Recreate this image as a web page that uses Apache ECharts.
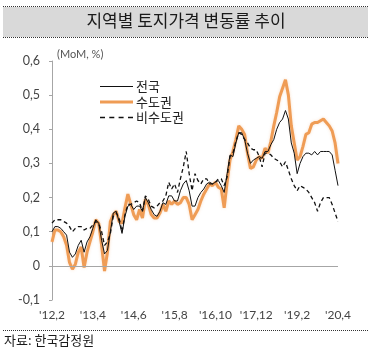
<!DOCTYPE html>
<html><head><meta charset="utf-8">
<script src="https://cdn.jsdelivr.net/npm/echarts@6/dist/echarts.min.js"></script>
<style>html,body{margin:0;padding:0;background:#fff}#c{width:372px;height:357px}</style>
</head><body><div id="c"></div>
<script>
// monthly categories 2012.2 .. 2020.4
const categories = [];
for (let y = 2012, m = 2; y < 2020 || (y === 2020 && m <= 4); ) {
  categories.push(y + '.' + m);
  m++; if (m > 12) { m = 1; y++; }
}
const tickLabels = ["'12,2", "'13,4", "'14,6", "'15,8", "'16,10", "'17,12", "'19,2", "'20,4"];
const yTickLabels = ["-0,1", "0", "0,1", "0,2", "0,3", "0,4", "0,5", "0,6"];

const nationwide = [0.10,0.115,0.115,0.11,0.10,0.09,0.04,0.025,0.035,0.06,0.075,0.04,0.07,0.085,0.11,0.135,0.125,0.075,0.035,0.045,
0.10,0.155,0.16,0.13,0.095,0.145,0.175,0.18,0.165,0.175,0.175,0.16,0.2,0.185,0.165,0.15,0.145,0.16,0.185,0.18,
0.205,0.205,0.19,0.19,0.22,0.24,0.25,0.22,0.175,0.175,0.2,0.215,0.225,0.24,0.245,0.24,0.245,0.25,0.235,0.215,
0.27,0.325,0.32,0.36,0.39,0.39,0.37,0.33,0.30,0.31,0.315,0.32,0.315,0.335,0.335,0.355,0.37,0.40,0.42,0.43,
0.455,0.43,0.36,0.33,0.27,0.30,0.32,0.33,0.33,0.325,0.335,0.325,0.335,0.335,0.335,0.335,0.325,0.28,0.235];

const capital = [0.07,0.105,0.105,0.10,0.085,0.06,0.01,-0.01,0.005,0.04,0.055,-0.005,0.04,0.07,0.10,0.135,0.125,0.06,-0.015,0.04,
0.13,0.15,0.16,0.13,0.125,0.17,0.21,0.18,0.15,0.135,0.165,0.14,0.195,0.18,0.15,0.14,0.14,0.155,0.18,0.16,
0.19,0.18,0.19,0.18,0.185,0.2,0.2,0.18,0.135,0.15,0.165,0.19,0.21,0.225,0.24,0.235,0.245,0.23,0.225,0.17,
0.245,0.31,0.335,0.37,0.41,0.40,0.385,0.33,0.285,0.29,0.31,0.32,0.315,0.345,0.33,0.365,0.41,0.45,0.495,0.52,
0.545,0.50,0.41,0.36,0.31,0.32,0.35,0.385,0.39,0.415,0.42,0.42,0.425,0.43,0.42,0.41,0.395,0.36,0.30];

const nonCapital = [0.125,0.135,0.135,0.135,0.13,0.125,0.115,0.10,0.11,0.115,0.115,0.105,0.11,0.11,0.12,0.13,0.125,0.10,0.06,0.07,
0.095,0.145,0.155,0.14,0.10,0.15,0.18,0.18,0.185,0.19,0.185,0.16,0.205,0.195,0.175,0.17,0.175,0.185,0.19,0.205,
0.245,0.225,0.24,0.215,0.255,0.29,0.335,0.27,0.22,0.27,0.25,0.24,0.255,0.255,0.24,0.24,0.245,0.255,0.255,0.235,
0.26,0.32,0.33,0.365,0.39,0.385,0.37,0.36,0.345,0.34,0.34,0.32,0.29,0.33,0.33,0.325,0.315,0.31,0.305,0.29,
0.305,0.28,0.255,0.235,0.22,0.235,0.23,0.225,0.215,0.2,0.185,0.16,0.185,0.2,0.2,0.2,0.18,0.155,0.13];

const seriesNames = ['전국', '수도권', '비수도권'];

const chart = echarts.init(document.getElementById('c'), null, {renderer: 'canvas'});
const numFont = 'Lato, "Noto Sans CJK KR", sans-serif';
const krFont = '"Noto Sans CJK KR", sans-serif';
chart.setOption({
  animation: false,
  backgroundColor: '#fff',
  grid: {left: 52, right: 34, top: 61, bottom: 57, containLabel: false},
  legend: {
    data: [
      {name: seriesNames[0], icon: 'path://M0,0L33,0L33,1.2L0,1.2Z'},
      {name: seriesNames[1], icon: 'path://M0,0L33,0L33,3.2L0,3.2Z'},
      {name: seriesNames[2], icon: 'path://M0,0h5v1.5h-5z M9.3,0h5v1.5h-5z M18.6,0h5v1.5h-5z M28,0h5v1.5h-5z'}
    ],
    orient: 'vertical', left: 95, top: 75,
    itemWidth: 33, itemHeight: 14, itemGap: 2.5,
    textStyle: {fontFamily: krFont, fontSize: 13, color: '#222', padding: [0,0,0,-2]}
  },
  xAxis: {
    type: 'category', data: categories, boundaryGap: false,
    axisLine: {show: false, onZero: false}, axisTick: {show: false},
    axisLabel: {
      interval: 13, margin: 9, fontSize: 12, color: '#444', fontFamily: numFont,
      formatter: (v, i) => tickLabels[Math.round(i / 14)]
    },
    splitLine: {show: false}
  },
  yAxis: {
    type: 'value', min: -0.1, max: 0.6, interval: 0.1,
    axisLine: {show: true, lineStyle: {color: '#a6a6a6', width: 1}},
    axisTick: {show: true, length: 3, lineStyle: {color: '#a6a6a6'}},
    axisLabel: {
      margin: 12, fontSize: 12.5, color: '#444', fontFamily: numFont,
      formatter: v => yTickLabels[Math.round((v + 0.1) * 10)]
    },
    splitLine: {show: false}
  },
  series: [
    {name: seriesNames[0], type: 'line', data: nationwide, symbol: 'none', z: 4,
     lineStyle: {color: '#111', width: 1}, itemStyle: {color: '#111'}},
    {name: seriesNames[1], type: 'line', data: capital, symbol: 'none', z: 3,
     lineStyle: {color: '#ef9c55', width: 3, shadowColor: 'rgba(239,156,85,0.35)', shadowBlur: 3},
     itemStyle: {color: '#ef9c55'},
     markLine: {silent: true, symbol: 'none', label: {show: false},
       lineStyle: {color: '#a6a6a6', width: 1, type: 'solid'}, data: [{yAxis: 0}]}},
    {name: seriesNames[2], type: 'line', data: nonCapital, symbol: 'none', z: 5,
     lineStyle: {color: '#111', width: 1.3, type: [4, 3]}, itemStyle: {color: '#111'}}
  ],
  graphic: [
    {type: 'rect', left: 3, top: 7, shape: {width: 365, height: 30}, style: {fill: '#d9d9d9'}, z: 0},
    {type: 'line', shape: {x1: 3, y1: 6.5, x2: 368, y2: 6.5}, style: {stroke: '#333', lineWidth: 1, lineDash: [1, 1]}},
    {type: 'line', shape: {x1: 3, y1: 37.5, x2: 368, y2: 37.5}, style: {stroke: '#333', lineWidth: 1, lineDash: [1, 1]}},
    {type: 'text', left: 'center', top: 12, style: {text: '지역별 토지가격 변동률 추이', font: '17px "Noto Sans CJK KR", sans-serif', fill: '#1a1a1a'}},
    {type: 'text', left: 57, top: 49, style: {text: '(MoM, %)', font: '11px Lato, sans-serif', fill: '#555'}},
    {type: 'line', shape: {x1: 3, y1: 330.5, x2: 368, y2: 330.5}, style: {stroke: '#333', lineWidth: 1, lineDash: [1, 1]}},
    {type: 'text', left: 4, top: 334, style: {text: '자료: 한국감정원', font: '13px "Noto Sans CJK KR", sans-serif', fill: '#1a1a1a'}}
  ]
});
</script></body></html>
